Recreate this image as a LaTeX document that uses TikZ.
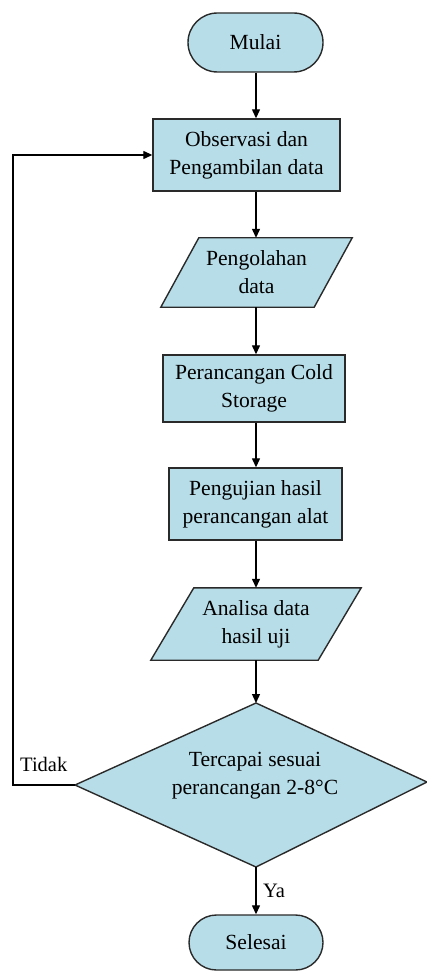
\documentclass[tikz,border=0pt]{standalone}
\usepackage{fontspec}
\setmainfont{Liberation Serif}
\usetikzlibrary{shapes.misc,shapes.geometric,arrows.meta,calc}
\definecolor{boxfill}{HTML}{B7DDE8}
\definecolor{edge}{HTML}{2A2A2A}
\begin{document}
\begin{tikzpicture}[x=1pt,y=-1pt,
  every node/.style={font=\fontsize{21.6}{28}\selectfont, align=center, inner sep=0pt},
  term/.style={rounded rectangle, draw=edge, fill=boxfill, line width=1.4pt},
  proc/.style={rectangle, draw=edge, fill=boxfill, line width=1.4pt},
  iobox/.style={rectangle},
  shapeline/.style={draw=edge, fill=boxfill, line width=1.4pt, line join=miter},
  arr/.style={line width=1.3pt, -{Triangle[length=9pt,width=8pt]}},
  lbl/.style={font=\fontsize{20.5}{22}\selectfont}
]
\useasboundingbox (0,0) rectangle (426,973);
\coordinate (col) at (256,0);

% terminators and process boxes
\node[term, minimum width=135pt, minimum height=59pt] (mulai) at (255.5,42.5) {Mulai};
\node[proc, minimum width=187pt, minimum height=72pt] (obs) at (246.5,155) {Observasi dan\\Pengambilan data};
\node[proc, minimum width=182pt, minimum height=67pt] (peran) at (254,388.5) {Perancangan Cold\\Storage};
\node[proc, minimum width=173pt, minimum height=72pt] (uji) at (255.5,504) {Pengujian hasil\\perancangan alat};
\node[term, minimum width=134pt, minimum height=55pt] (selesai) at (256,942.5) {Selesai};

% parallelograms (input/output)
\node[iobox, minimum width=191pt, minimum height=69pt] (olah) at (256.5,272.5) {};
\path[shapeline] ($(olah.north west)+(38,0)$) -- (olah.north east) -- ($(olah.south east)+(-38,0)$) -- (olah.south west) -- cycle;
\node at (olah) {Pengolahan\\data};

\node[iobox, minimum width=210pt, minimum height=72pt] (ana) at (256,624) {};
\path[shapeline] ($(ana.north west)+(43,0)$) -- (ana.north east) -- ($(ana.south east)+(-43,0)$) -- (ana.south west) -- cycle;
\node at (ana) {Analisa data\\hasil uji};

% decision
\coordinate (dtop) at (256,703);
\coordinate (dleft) at (75,785);
\coordinate (dright) at (427,782);
\coordinate (dbot) at (256,867);
\path[shapeline] (dtop) -- (dright) -- (dbot) -- (dleft) -- cycle;
\node (dec) at (255,776) {Tercapai sesuai\\perancangan 2-8°C};

% connectors
\draw[arr] (col |- mulai.south) -- (col |- obs.north);
\draw[arr] (col |- obs.south) -- (col |- olah.north);
\draw[arr] (col |- olah.south) -- (col |- peran.north);
\draw[arr] (col |- peran.south) -- (col |- uji.north);
\draw[arr] (col |- uji.south) -- (col |- ana.north);
\draw[arr] (col |- ana.south) -- (dtop);
\draw[arr] (dbot) -- (dbot |- selesai.north);
\coordinate (loopx) at (13,0);
\draw[arr] (dleft) -- (loopx |- dleft) -- (loopx |- obs.west) -- (obs.west);

% labels
\node[lbl, anchor=base west] (tidak) at (20,771) {Tidak};
\node[lbl, anchor=base west] (ya) at (263,897) {Ya};
\end{tikzpicture}
\end{document}
